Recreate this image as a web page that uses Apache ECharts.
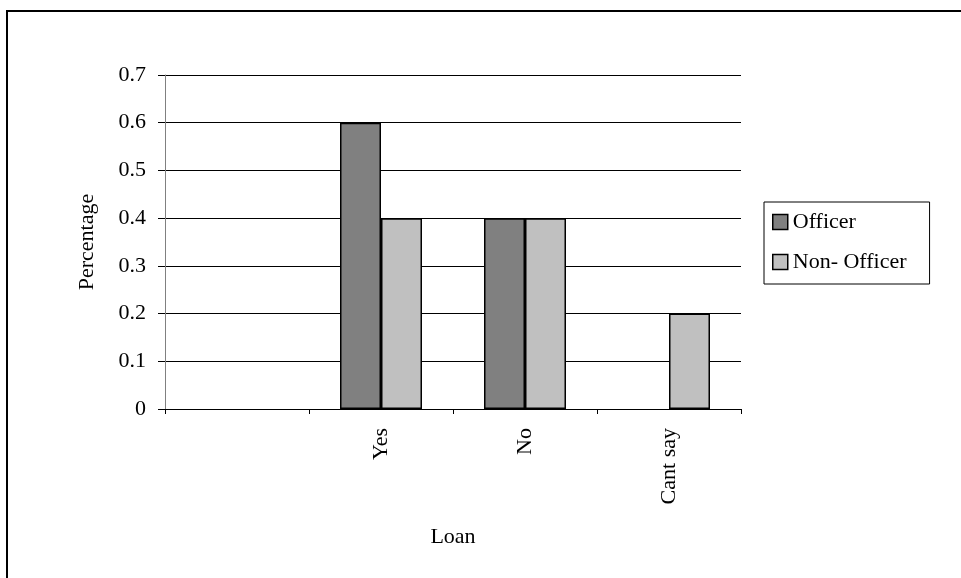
<!DOCTYPE html>
<html>
<head>
<meta charset="utf-8">
<script src="https://cdn.jsdelivr.net/npm/echarts@6/dist/echarts.min.js"></script>
<style>
  html, body { margin: 0; padding: 0; background: #fff; }
  #chart { width: 961px; height: 578px; }
</style>
</head>
<body>
<div id="chart"></div>
<script>
// Loan responses by group (first category slot is left blank)
const categories = ['', 'Yes', 'No', 'Cant say'];
const officer = [null, 0.6, 0.4, null];
const nonOfficer = [null, 0.4, 0.4, 0.2];
const seriesNames = ['Officer', 'Non- Officer'];

const FONT = '"Liberation Serif", "Times New Roman", serif';
const FS = 22;

const chart = echarts.init(document.getElementById('chart'));
chart.setOption({
  animation: false,
  backgroundColor: '#fff',
  textStyle: { fontFamily: FONT, color: '#000' },
  graphic: [{
    type: 'rect',
    shape: { x: 7, y: 11, width: 1000, height: 620 },
    style: { fill: 'none', stroke: '#000', lineWidth: 2 },
    silent: true
  }],
  grid: { left: 165, right: 220, top: 75, bottom: 169 },
  legend: {
    orient: 'vertical',
    left: 764,
    top: 202,
    padding: [9, 23, 11, 8],
    itemGap: 18,
    itemWidth: 15,
    itemHeight: 15,
    itemStyle: { borderColor: '#000', borderWidth: 1.5 },
    borderColor: '#000',
    borderWidth: 1,
    icon: 'rect',
    textStyle: { fontFamily: FONT, fontSize: FS, lineHeight: 22, color: '#000' },
    data: seriesNames
  },
  xAxis: {
    type: 'category',
    data: categories,
    name: 'Loan',
    nameLocation: 'middle',
    nameGap: 117,
    nameTextStyle: { fontFamily: FONT, fontSize: FS, color: '#000' },
    axisLine: { lineStyle: { color: '#000', width: 1 } },
    axisTick: { show: true, alignWithLabel: false, length: 5, lineStyle: { color: '#000' } },
    axisLabel: { rotate: 90, margin: 19, fontFamily: FONT, fontSize: FS, color: '#000', interval: 0 },
    splitLine: { show: false }
  },
  yAxis: {
    type: 'value',
    min: 0,
    max: 0.7,
    interval: 0.1,
    name: 'Percentage',
    nameLocation: 'middle',
    nameGap: 67,
    nameTextStyle: { fontFamily: FONT, fontSize: FS, color: '#000' },
    axisLine: { show: true, lineStyle: { color: '#808080', width: 1 } },
    axisTick: { show: true, length: 7, lineStyle: { color: '#000' } },
    axisLabel: { margin: 19, fontFamily: FONT, fontSize: FS, color: '#000',
      formatter: v => String(Math.round(v * 10) / 10) },
    splitLine: { show: true, lineStyle: { color: '#000', width: 1 } }
  },
  series: [
    {
      name: seriesNames[0],
      type: 'bar',
      data: officer,
      barWidth: 41,
      barGap: '0%',
      itemStyle: { color: '#808080', borderColor: '#000', borderWidth: 1.5 }
    },
    {
      name: seriesNames[1],
      type: 'bar',
      data: nonOfficer,
      barWidth: 41,
      barGap: '0%',
      itemStyle: { color: '#c0c0c0', borderColor: '#000', borderWidth: 1.5 }
    }
  ]
});
</script>
</body>
</html>
